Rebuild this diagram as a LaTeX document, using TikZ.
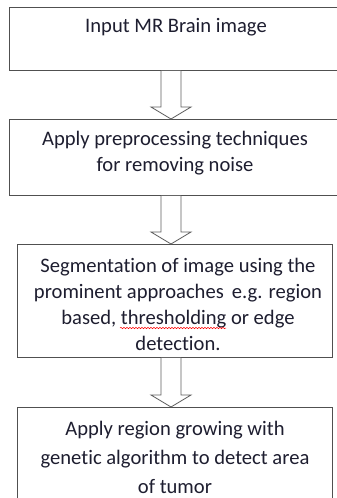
\documentclass[tikz,border=0pt]{standalone}
\usepackage{fontspec}
\setmainfont{Carlito}[Ligatures=NoCommon]
\usetikzlibrary{calc,decorations.pathmorphing}
\definecolor{boxgray}{HTML}{505050}
\definecolor{arrgray}{HTML}{606060}
\definecolor{txt}{HTML}{1E1E30}
\tikzset{
  box/.style={draw=boxgray, line width=0.9pt, anchor=north west, inner sep=0pt, fill=white},
  lbl/.style={text=txt, font=\fontsize{20.6}{26}\selectfont, align=center, inner sep=0pt},
  blockarrow/.style={draw=arrgray, line width=0.8pt, fill=white, line join=miter}
}
\begin{document}
\begin{tikzpicture}[x=1pt,y=1pt]
\useasboundingbox (0,0) rectangle (337,-498);
\clip (0,0) rectangle (337,-498);
\fill[white] (0,0) rectangle (337,-498);
\coordinate (ax) at (171,0);
% boxes
\node[box, minimum width=332pt, minimum height=63pt] (b1) at (9,-7) {};
\node[box, minimum width=332pt, minimum height=76pt] (b2) at (9,-119) {};
\node[box, minimum width=315pt, minimum height=113pt] (b3) at (17,-244) {};
\node[box, minimum width=315pt, minimum height=100pt] (b4) at (17,-407) {};
% texts
\node[lbl] (t1) at (176,-27) {Input MR Brain image};
\node[lbl] (t2) at (175,-153) {Apply preprocessing techniques\\for removing noise};
\node[lbl] (t3) at (178,-304) {Segmentation of image using the\\prominent approaches\, e.g. region\\based, thresholding or edge\\detection.};
\node[lbl, font=\fontsize{20.6}{29}\selectfont] (t4) at (175,-457) {Apply region growing with\\genetic algorithm to detect area\\of tumor};
% spell-check underline
\draw[red, line width=0.5pt, decorate, decoration={snake, amplitude=0.7pt, segment length=3pt}] (120,-328) -- (226,-328);
% block arrows
\foreach \a/\b in {b1/b2, b2/b3, b3/b4}{
  \draw[blockarrow] ($(\a.south -| ax)+(-10,0)$) -- ($(\b.north -| ax)+(-10,12)$) -- ($(\b.north -| ax)+(-20,12)$) -- (\b.north -| ax) -- ($(\b.north -| ax)+(20,12)$) -- ($(\b.north -| ax)+(10,12)$) -- ($(\a.south -| ax)+(10,0)$);
}
\end{tikzpicture}
\end{document}
